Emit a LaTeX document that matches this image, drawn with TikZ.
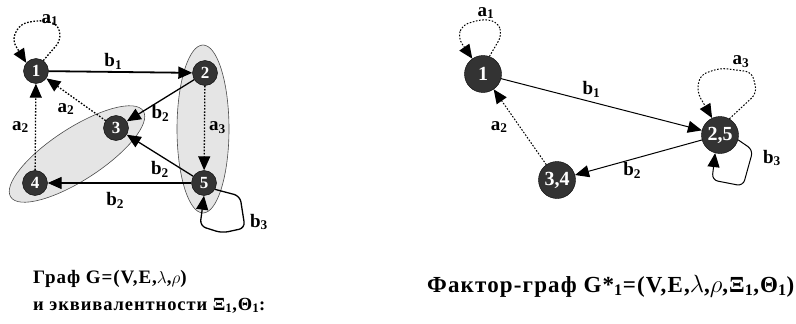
\documentclass[tikz,border=0pt]{standalone}
\usepackage{fontspec}
\setmainfont{Liberation Serif}
\newfontfamily\capfont[LetterSpace=5]{Liberation Serif}
\usetikzlibrary{arrows.meta,positioning}
\newcommand{\lab}[2]{\textbf{#1\textsubscript{#2}}}

\begin{document}
\begin{tikzpicture}[x=1pt,y=-1pt,
    vertex/.style={circle,fill=black!80,draw=black,text=white,minimum size=25pt,inner sep=0pt,font=\bfseries\fontsize{17}{17}\selectfont},
    bigvertex/.style={vertex,minimum size=37pt,font=\bfseries\fontsize{20}{20}\selectfont},
    bedge/.style={line width=1.3pt,-{Triangle[length=14pt,width=12pt]}},
    aedge/.style={bedge,dash pattern=on 1.6pt off 1.6pt},
    class/.style={draw=black!70,fill=black!10,line width=0.6pt},
    elabel/.style={font=\fontsize{19}{19}\selectfont,inner sep=1pt},
    caption/.style={font=\capfont\bfseries\fontsize{19}{27}\selectfont,inner sep=0pt}]
      \useasboundingbox (0,0) rectangle (796,324);

      % equivalence classes
      \draw[class] (203,129) ellipse [x radius=26, y radius=84];
      \draw[class, rotate around={33:(77,154)}] (77,154) ellipse [x radius=79, y radius=26];

      % graph G
      \node[vertex] (l1) at (36, 71) {1};
      \node[vertex] (l2) at (205, 73) {2};
      \node[vertex] (l3) at (116, 128) {3};
      \node[vertex] (l4) at (35, 183) {4};
      \node[vertex] (l5) at (204, 183) {5};

      \draw[bedge, line width=1.8pt] (l1) -- (l2) node [elabel, pos=0.45, above=1pt] (b1) {\lab{b}{1}};
      \draw[aedge] (l4) -- (l1) node [elabel, midway, left=5pt] (a2) {\lab{a}{2}};
      \draw[aedge] (l3) -- (l1) node [elabel, midway, below left=2pt and 0pt] (a2x) {\lab{a}{2}};
      \draw[bedge] (l2) -- (l3) node [elabel, midway, below=3pt] (b2) {\lab{b}{2}};
      \draw[aedge] (l2) -- (l5) node [elabel, midway, right=3pt] (a3) {\lab{a}{3}};
      \draw[bedge] (l5) -- (l3) node [elabel, midway, below=4pt] (b2x) {\lab{b}{2}};
      \draw[bedge] (l5) -- (l4) node [elabel, pos=0.53, below=8pt] (b2y) {\lab{b}{2}};

      % loops
      \draw[aedge, rounded corners=7pt] (l1.55) -- (61,40) -- (58,24) -- (40,20) -- (20,24) -- (12,40) -- (l1.140);
      \node[elabel] (a1) at (50,20) {\lab{a}{1}};
      \draw[bedge, rounded corners=6pt] (l5.-30) -- (240,196) -- (245,228) -- (222,233) -- (200,226) -- (l5.south);
      \node[elabel] (b3) at (259,222) {\lab{b}{3}};

      % factor graph
      \node[bigvertex] (r1) at (483, 74) {1};
      \node[bigvertex] (r25) at (720, 135) {2,5};
      \node[bigvertex] (r34) at (557, 180) {3,4};

      \draw[bedge, line width=1pt] (r1) -- (r25) node [elabel, pos=0.45, above=3pt] (rb1) {\lab{b}{1}};
      \draw[aedge, line width=1pt] (r34) -- (r1) node [elabel, midway, left=11pt] (ra2) {\lab{a}{2}};
      \draw[bedge, line width=1pt] (r25) -- (r34) node [elabel, pos=0.55, below=2pt] (rb2) {\lab{b}{2}};

      % loops
      \draw[aedge, line width=1pt, rounded corners=7pt] (r1.70) -- (502,35) -- (498,22) -- (483,19) -- (462,25) -- (458,38) -- (r1.125);
      \node[elabel] (ra1) at (486,13) {\lab{a}{1}};
      \draw[aedge, line width=1pt, rounded corners=7pt] (r25.60) -- (757,93) -- (752,72) -- (720,68) -- (700,75) -- (697,92) -- (r25.115);
      \node[elabel] (ra3) at (741,62) {\lab{a}{3}};
      \draw[bedge, line width=1pt, rounded corners=6pt] (r25.-15) -- (753,150) -- (743,186) -- (712,180) -- (r25.-105);
      \node[elabel] (rb3) at (772,158) {\lab{b}{3}};

      % captions
      \node[caption, anchor=base west] (capG) at (33,283) {Граф G=(V,E,$\lambda$,$\rho$)};
      \node[caption, anchor=base west, font=\capfont\bfseries\fontsize{18.5}{27}\selectfont] (capE) at (33,310) {и эквивалентности Ξ\textsubscript{1},Θ\textsubscript{1}:};
      \node[caption, anchor=base west, font=\capfont\bfseries\fontsize{23}{23}\selectfont] (capF) at (427,292)
        {Фактор-граф G*\textsubscript{1}=(V,E,$\lambda$,$\rho$,Ξ\textsubscript{1},Θ\textsubscript{1})};
    \end{tikzpicture}
\end{document}
